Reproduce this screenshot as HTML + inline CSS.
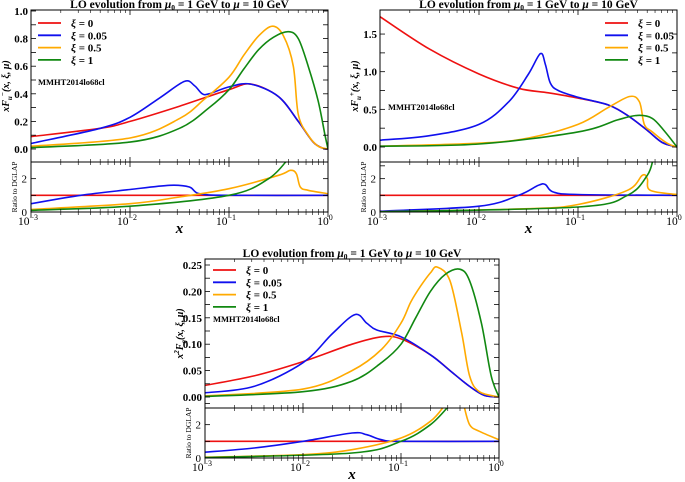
<!DOCTYPE html><html><head><meta charset="utf-8"><style>
body{margin:0;background:#fff}svg{display:block}
text{font-family:"Liberation Serif",serif;fill:#000}
</style></head><body>
<svg id="s" width="685" height="482" xmlns="http://www.w3.org/2000/svg"></svg>
<script>
const S=document.getElementById('s');let out='';
const C={r:'#ee1111',b:'#1010ee',o:'#ffaa00',g:'#118811'};
function cr(p){let d='M'+p[0][0].toFixed(1)+','+p[0][1].toFixed(1);
for(let i=0;i<p.length-1;i++){const p0=p[i-1]||p[i],p1=p[i],p2=p[i+1],p3=p[i+2]||p2;
d+=`C${(p1[0]+(p2[0]-p0[0])/6).toFixed(1)},${(p1[1]+(p2[1]-p0[1])/6).toFixed(1)} ${(p2[0]-(p3[0]-p1[0])/6).toFixed(1)},${(p2[1]-(p3[1]-p1[1])/6).toFixed(1)} ${p2[0].toFixed(1)},${p2[1].toFixed(1)}`;}return d;}
let cid=0;
function panel(P){
const X=l=>P.x0+(l+3)*(P.x1-P.x0)/3;
const Y=v=>P.y0-v*P.sy, R=v=>P.rb-v*(P.rb-P.rt)/3;
cid++;
out+=`<clipPath id="a${cid}"><rect x="${P.x0}" y="${P.top}" width="${P.x1-P.x0}" height="${P.rt-P.top}"/></clipPath><clipPath id="b${cid}"><rect x="${P.x0}" y="${P.rt}" width="${P.x1-P.x0}" height="${P.rb-P.rt}"/></clipPath>`;
for(const k of ['r','b','o','g']){
out+=`<path d="${cr(P.c[k].map(q=>[X(q[0]),Y(q[1])]))}" fill="none" stroke="${C[k]}" stroke-width="1.6" clip-path="url(#a${cid})"/>`;
const rr=P.r[k];const segs=Array.isArray(rr[0][0])?rr:[rr];
for(const sg of segs)out+=`<path d="${cr(sg.map(q=>[X(q[0]),R(q[1])]))}" fill="none" stroke="${C[k]}" stroke-width="1.6" clip-path="url(#b${cid})"/>`;}
out+=`<rect x="${P.x0}" y="${P.top}" width="${P.x1-P.x0}" height="${P.rb-P.top}" fill="none" stroke="#000" stroke-width="1"/><line x1="${P.x0}" x2="${P.x1}" y1="${P.rt}" y2="${P.rt}" stroke="#000"/>`;
for(let d=-3;d<=0;d++){const x=X(d);
for(const yy of [P.rt,P.rb])out+=`<line x1="${x}" x2="${x}" y1="${yy-5}" y2="${yy+5}" stroke="#000" stroke-width="0.8"/>`;
out+=`<line x1="${x}" x2="${x}" y1="${P.top}" y2="${P.top+5}" stroke="#000" stroke-width="0.8"/>`;
out+=`<text x="${x-3}" y="${P.rb+13}" font-size="11.5" text-anchor="middle">10<tspan dy="-5" font-size="8">${d==0?'0':'−'+(-d)}</tspan></text>`;
if(d<0)for(let m=2;m<10;m++){const xm=X(d+Math.log10(m));
for(const yy of [P.rt,P.rb])out+=`<line x1="${xm}" x2="${xm}" y1="${yy-3}" y2="${yy+3}" stroke="#000" stroke-width="0.6"/>`;
out+=`<line x1="${xm}" x2="${xm}" y1="${P.top}" y2="${P.top+3}" stroke="#000" stroke-width="0.6"/>`;}}
for(const [v,l] of P.yt){const y=Y(v);out+=`<line x1="${P.x0}" x2="${P.x0+5}" y1="${y}" y2="${y}" stroke="#000" stroke-width="0.8"/><line x1="${P.x1-5}" x2="${P.x1}" y1="${y}" y2="${y}" stroke="#000" stroke-width="0.8"/>`;
if(l)out+=`<text x="${P.x0-3}" y="${y+4}" font-size="11" font-weight="bold" text-anchor="end">${l}</text>`;}
for(const v of [0,1,2,3]){const y=R(v);out+=`<line x1="${P.x0}" x2="${P.x0+5}" y1="${y}" y2="${y}" stroke="#000" stroke-width="0.8"/><line x1="${P.x1-5}" x2="${P.x1}" y1="${y}" y2="${y}" stroke="#000" stroke-width="0.8"/>`;
if(v==0||v==2)out+=`<text x="${P.x0-4}" y="${y+4}" font-size="11" text-anchor="end">${v}</text>`;}
const cx=(P.x0+P.x1)/2;
out+=`<text x="${cx}" y="${P.top-2}" font-size="11.5" font-weight="bold" text-anchor="middle">LO evolution from <tspan font-style="italic">μ</tspan><tspan font-size="7.5" dy="2">0</tspan><tspan dy="-2"> = 1 GeV to </tspan><tspan font-style="italic">μ</tspan> = 10 GeV</text>`;
out+=`<text x="${cx}" y="${P.rb+21}" font-size="15" font-style="italic" font-weight="bold" text-anchor="middle">x</text>`;
out+=`<text transform="translate(${P.x0-22},${(P.top+P.rt)/2}) rotate(-90)" font-size="10" font-style="italic" font-weight="bold" text-anchor="middle">${P.yl}</text>`;
out+=`<text transform="translate(${P.x0-14},${(P.rt+P.rb)/2}) rotate(-90)" font-size="7.5" text-anchor="middle">Ratio to DGLAP</text>`;
const labs=['ξ = 0','ξ = 0.05','ξ = 0.5','ξ = 1'];
['r','b','o','g'].forEach((k,i)=>{const y=P.ly+i*12.3;
out+=`<line x1="${P.lx}" x2="${P.lx+23}" y1="${y}" y2="${y}" stroke="${C[k]}" stroke-width="1.8"/><text x="${P.lx+33}" y="${y+4}" font-size="11" font-weight="bold"><tspan font-style="italic">ξ</tspan>${labs[i].slice(1)}</text>`;});
out+=`<text x="${P.mx}" y="${P.my}" font-size="8.5" font-weight="bold">MMHT2014lo68cl</text>`;
}
panel({x0:31,x1:328,top:10,rt:162,rb:212,y0:149,sy:138,
yt:[[0,'0.0'],[0.2,'0.2'],[0.4,'0.4'],[0.6,'0.6'],[0.8,'0.8'],[1,'1.0'],[0.1],[0.3],[0.5],[0.7],[0.9]],
yl:'xF<tspan font-size="7" dy="3">u</tspan><tspan font-size="7" dy="-7">−</tspan><tspan dy="4">(x, ξ, μ)</tspan>',lx:38,ly:23,mx:38,my:85,
c:{r:[[-3,.09],[-2.3,.15],[-2,.2],[-1.5,.31],[-1,.43],[-0.78,.47],[-0.5,.38],[-0.3,.2],[-0.15,.05],[-0.05,.005],[0,0]],
b:[[-3,.04],[-2.3,.15],[-2,.23],[-1.7,.37],[-1.45,.49],[-1.35,.46],[-1.27,.4],[-1.2,.4],[-1,.45],[-0.78,.47],[-0.5,.38],[-0.3,.2],[-0.15,.05],[-0.05,.005],[0,0]],
o:[[-3,.02],[-2,.08],[-1.5,.22],[-1.25,.36],[-1,.52],[-0.85,.68],[-0.7,.82],[-0.56,.89],[-0.45,.82],[-0.35,.6],[-0.3,.25],[-0.2,.1],[-0.1,.02],[0,0]],
g:[[-3,.01],[-2,.05],[-1.5,.15],[-1.2,.3],[-1,.43],[-0.85,.58],[-0.7,.72],[-0.55,.81],[-0.4,.85],[-0.3,.8],[-0.2,.6],[-0.1,.35],[-0.03,.1],[0,0]]},
r:{r:[[-3,1],[0,1]],b:[[-3,.5],[-2.5,1],[-2,1.35],[-1.6,1.6],[-1.4,1.5],[-1.3,1.1],[-1,1],[0,1]],
o:[[-3,.15],[-2,.5],[-1.5,.9],[-1,1.4],[-0.5,2.2],[-0.38,2.5],[-0.32,2.3],[-0.28,1.5],[-0.2,1.3],[0,1.1]],
g:[[-3,.1],[-2,.35],[-1,1],[-0.6,2],[-0.4,3.2]]}});
panel({x0:380,x1:677,top:10,rt:162,rb:212,y0:147,sy:75.3,
yt:[[0,'0.0'],[0.5,'0.5'],[1,'1.0'],[1.5,'1.5'],[0.25],[0.75],[1.25],[-0.25]],
yl:'xF<tspan font-size="7" dy="3">u</tspan><tspan font-size="7" dy="-7">+</tspan><tspan dy="4">(x, ξ, μ)</tspan>',lx:605,ly:23,mx:388,my:110,
c:{r:[[-3,1.73],[-2.5,1.3],[-2,.97],[-1.6,.78],[-1.3,.72],[-1,.65],[-0.7,.56],[-0.5,.42],[-0.3,.22],[-0.15,.06],[0,0]],
b:[[-3,.09],[-2.5,.15],[-2,.3],[-1.7,.6],[-1.5,.97],[-1.38,1.24],[-1.33,1.1],[-1.28,.85],[-1.2,.75],[-1,.66],[-0.7,.56],[-0.5,.42],[-0.3,.22],[-0.15,.06],[0,0]],
o:[[-3,.01],[-2,.05],[-1.5,.12],[-1,.3],[-0.7,.52],[-0.48,.67],[-0.38,.6],[-0.33,.3],[-0.25,.2],[-0.1,.05],[0,0]],
g:[[-3,.01],[-2,.04],[-1,.2],[-0.6,.36],[-0.4,.42],[-0.25,.38],[-0.12,.2],[0,0]]},
r:{r:[[-3,1],[0,1]],b:[[-3,.05],[-2,.35],[-1.6,1],[-1.4,1.6],[-1.33,1.65],[-1.25,1.2],[-1,1.05],[0,1]],
o:[[-3,.02],[-1.5,.2],[-1,.45],[-0.5,1.3],[-0.35,2.2],[-0.3,2],[-0.27,1.3],[0,1.05]],
g:[[-3,.01],[-1,.3],[-0.5,1],[-0.3,2.2],[-0.24,3.2]]}});
panel({x0:205,x1:499,top:259,rt:408,rb:458,y0:397,sy:528,
yt:[[0,'0.00'],[0.05,'0.05'],[0.1,'0.10'],[0.15,'0.15'],[0.2,'0.20'],[0.25,'0.25'],[0.025],[0.075],[0.125],[0.175],[0.225],[-0.0125]],
yl:'x<tspan font-size="7" dy="-4">2</tspan><tspan dy="4">F</tspan><tspan font-size="7" dy="3">g</tspan><tspan dy="-3">(x, ξ, μ)</tspan>',lx:213,ly:270,mx:213,my:322,
c:{r:[[-3,.022],[-2.5,.04],[-2,.067],[-1.5,.1],[-1.2,.114],[-1,.11],[-0.7,.08],[-0.5,.05],[-0.3,.02],[-0.15,.003],[0,0]],
b:[[-3,.008],[-2.5,.02],[-2,.065],[-1.7,.12],[-1.47,.156],[-1.35,.14],[-1.25,.127],[-1,.114],[-0.7,.08],[-0.5,.05],[-0.3,.02],[-0.15,.003],[0,0]],
o:[[-3,.002],[-2,.015],[-1.5,.05],[-1.2,.09],[-1,.14],[-0.9,.18],[-0.8,.21],[-0.7,.235],[-0.63,.246],[-0.5,.22],[-0.38,.12],[-0.3,.04],[-0.2,.01],[0,0]],
g:[[-3,.001],[-2,.01],[-1.5,.03],[-1.2,.065],[-1,.1],[-0.85,.15],[-0.7,.2],[-0.55,.232],[-0.4,.242],[-0.3,.22],[-0.18,.14],[-0.08,.04],[0,0]]},
r:{r:[[-3,1],[0,1]],b:[[-3,.35],[-2.5,.6],[-2,1],[-1.5,1.5],[-1.35,1.4],[-1.2,1.1],[-1,1],[0,1]],
o:[[[-3,.05],[-2,.2],[-1.5,.5],[-1,1.2],[-0.7,2.2],[-0.55,3.2]],[[-0.36,3.2],[-0.3,2],[-0.2,1.6],[0,1.1]]],
g:[[-3,.03],[-1.5,.3],[-1,1],[-0.7,2],[-0.5,3.2]]}});
S.innerHTML=out;
</script></body></html>
